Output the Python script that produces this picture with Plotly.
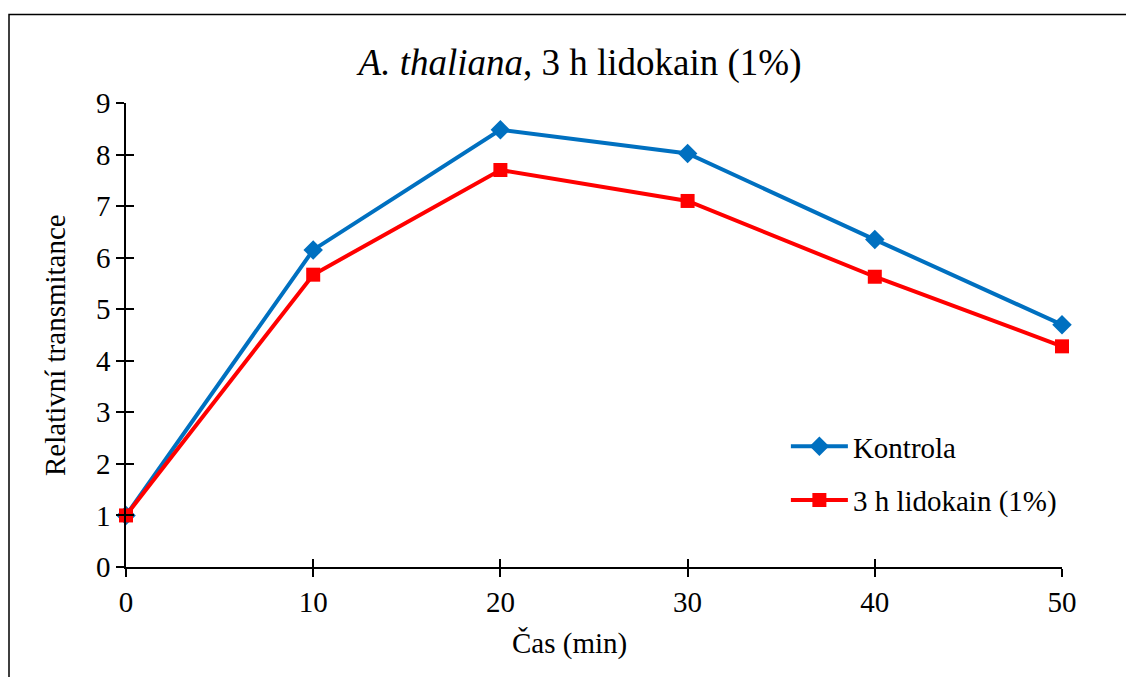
import plotly.graph_objects as go

cas_min = [0, 10, 20, 30, 40, 50]
kontrola = [1.0, 6.15, 8.48, 8.02, 6.35, 4.70]
lidokain = [1.0, 5.67, 7.70, 7.10, 5.63, 4.28]
x_ticks = [0, 10, 20, 30, 40, 50]
y_ticks = [0, 1, 2, 3, 4, 5, 6, 7, 8, 9]

FONT = "Liberation Serif, Times New Roman, serif"
BLUE = "#0070C0"
RED = "#FF0000"
W, H = 1126, 677

fig = go.Figure()
fig.add_trace(go.Scatter(
    x=cas_min, y=kontrola, name="Kontrola", mode="lines+markers",
    line=dict(color=BLUE, width=4),
    marker=dict(symbol="diamond", size=15, color=BLUE),
    cliponaxis=False, legendgroup="a"))
fig.add_trace(go.Scatter(
    x=cas_min, y=lidokain, name="3 h lidokain (1%)", mode="lines+markers",
    line=dict(color=RED, width=4),
    marker=dict(symbol="square", size=14, color=RED),
    cliponaxis=False, legendgroup="b"))
# invisible trace to create the overlay axes for crossing ticks
fig.add_trace(go.Scatter(x=cas_min, y=kontrola, xaxis="x2", yaxis="y2",
                         mode="lines", opacity=0, showlegend=False,
                         hoverinfo="skip"))

axis_common = dict(showgrid=False, zeroline=False, color="black",
                   tickfont=dict(family=FONT, size=29, color="black"))

fig.update_layout(
    width=W, height=H,
    margin=dict(l=126, r=64, t=103, b=110),
    paper_bgcolor="white", plot_bgcolor="white",
    font=dict(family=FONT, size=29, color="black"),
    title=dict(text="<i>A. thaliana</i>, 3 h lidokain (1%)",
               font=dict(family=FONT, size=37, color="black"),
               x=580 / W, xanchor="center", y=1 - 62 / H, yanchor="middle",
               xref="container", yref="container"),
    xaxis=dict(range=[0, 50], tickvals=x_ticks, ticks="outside", ticklen=8,
               tickwidth=1.5, tickcolor="black", showline=True,
               linecolor="black", linewidth=1.5, **axis_common),
    yaxis=dict(range=[0, 9], tickvals=y_ticks, ticks="outside", ticklen=8,
               tickwidth=1.5, tickcolor="black", showline=True,
               linecolor="black", linewidth=1.5, **axis_common),
    xaxis2=dict(range=[0, 50], tickvals=x_ticks, ticks="inside", ticklen=8,
                tickwidth=1.5, tickcolor="black", showticklabels=False,
                showline=False, showgrid=False, zeroline=False,
                overlaying="x", anchor="y"),
    yaxis2=dict(range=[0, 9], tickvals=y_ticks, ticks="inside", ticklen=8,
                tickwidth=1.5, tickcolor="black", showticklabels=False,
                showline=False, showgrid=False, zeroline=False,
                overlaying="y", anchor="x"),
    legend=dict(x=0.705, y=0.315, xanchor="left", yanchor="top",
                bgcolor="rgba(0,0,0,0)", font=dict(family=FONT, size=29),
                itemwidth=57, tracegroupgap=13),
    annotations=[
        dict(text="Čas (min)", xref="paper", yref="paper",
             x=(569 - 126) / 936, y=(567 - 643) / 464,
             xanchor="center", yanchor="middle", showarrow=False,
             font=dict(family=FONT, size=29, color="black")),
        dict(text="Relativní transmitance", xref="paper", yref="paper",
             x=(55 - 126) / 936, y=(567 - 345) / 464, textangle=-90,
             xanchor="center", yanchor="middle", showarrow=False,
             font=dict(family=FONT, size=29, color="black")),
    ],
    shapes=[dict(type="rect", xref="paper", yref="paper",
                 x0=(9 - 126) / 936, x1=1.12,
                 y0=-0.3, y1=(567 - 14.5) / 464,
                 line=dict(color="black", width=1.5), fillcolor="rgba(0,0,0,0)",
                 layer="below")],
)

fig.write_html("out.html")
